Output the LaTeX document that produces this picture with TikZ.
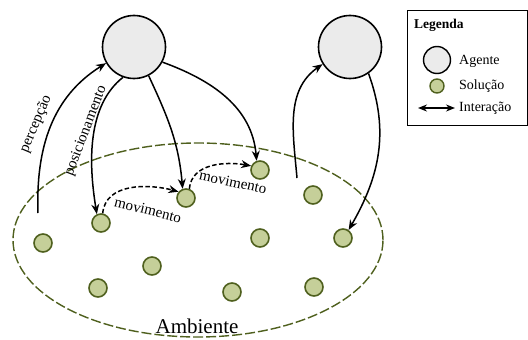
\documentclass[tikz,border=0pt]{standalone}
\usepackage{fontspec}
\setmainfont{Liberation Serif}
\usetikzlibrary{arrows.meta,shapes.geometric}
\definecolor{agentgray}{RGB}{235,235,235}
\definecolor{olivelight}{RGB}{197,207,153}
\definecolor{olivedark}{RGB}{79,96,30}
\begin{document}
\begin{tikzpicture}[x=1pt,y=1pt,
 agent/.style={circle,draw,line width=1.6pt,fill=agentgray,minimum size=63pt,inner sep=0},
 sol/.style={circle,draw=olivedark,line width=1.6pt,fill=olivelight,minimum size=18pt,inner sep=0},
 inter/.style={-{Stealth[length=10pt,width=8pt]},line width=1.5pt},
 mov/.style={inter,dash pattern=on 4.5pt off 2.5pt},
 lbl/.style={font=\fontsize{15}{15}\selectfont,inner sep=1pt},
 legtxt/.style={font=\fontsize{14}{14}\selectfont,anchor=west,inner sep=1pt},
]
\useasboundingbox (0,0) rectangle (528,-340);
% environment
\node[ellipse,draw=olivedark,line width=1.4pt,dash pattern=on 10pt off 3pt,
  minimum width=370pt,minimum height=194pt,inner sep=0] (env) at (198,-240) {};
\node[font=\fontsize{21}{21}\selectfont,inner sep=1pt] (amb) at (197,-326) {Ambiente};
% agents
\node[agent] (a1) at (134,-47) {};
\node[agent] (a2) at (350,-47) {};
% solutions
\node[sol] (s1) at (43,-243) {};
\node[sol] (s2) at (101,-223) {};
\node[sol] (s3) at (186,-198) {};
\node[sol] (s4) at (260,-170) {};
\node[sol] (s5) at (313,-195) {};
\node[sol] (s6) at (260,-238) {};
\node[sol] (s7) at (343,-238) {};
\node[sol] (s8) at (152,-266) {};
\node[sol] (s9) at (98,-288) {};
\node[sol] (s10) at (232,-292) {};
\node[sol] (s11) at (314,-287) {};
% interactions
\coordinate (p1) at (38,-213);
\coordinate (p2) at (297,-178);
\draw[inter] (p1) to[out=92,in=212] (a1.210);
\draw[inter] (a1.250) .. controls (88,-105) and (88,-160) .. (s2.115);
\draw[inter] (a1.297) to[out=-65,in=95] (s3.110);
\draw[inter] (a1.-28) to[out=-20,in=95] (s4.110);
\draw[inter] (p2) to[out=95,in=215] (a2.212);
\draw[inter] (a2.-55) to[out=-70,in=60] (s7.55);
% movements
\draw[mov] (s2.80) to[out=85,in=165] (s3.140);
\draw[mov] (s3.70) to[out=85,in=170] (s4.155);
% labels
\node[lbl,rotate=67] (lp) at (36,-124) {percepção};
\node[lbl,rotate=69] (lq) at (86,-131) {posicionamento};
\node[lbl,rotate=-14] (lm1) at (148,-210) {movimento};
\node[lbl,rotate=-12] (lm2) at (233,-182) {movimento};
% legend
\node[draw,line width=1pt,minimum width=120pt,minimum height=115pt,anchor=north west,inner sep=0] (leg) at (407,-10) {};
\node[anchor=west,font=\bfseries\fontsize{13.5}{14}\selectfont,inner sep=1pt] (legt) at (413,-25) {Legenda};
\node[agent,minimum size=27pt,line width=1.4pt] (la) at (437,-60) {};
\node[legtxt] (lat) at (458,-61) {Agente};
\node[sol,minimum size=14pt,line width=1.4pt] (ls) at (437,-86) {};
\node[legtxt] (lst) at (458,-86) {Solução};
\coordinate (lil) at (418,-108);
\coordinate (lir) at (455,-108);
\draw[{Stealth[length=9pt,width=7pt]}-{Stealth[length=9pt,width=7pt]},line width=1.5pt] (lil) -- (lir);
\node[legtxt] (lit) at (458,-108) {Interação};
\end{tikzpicture}
\end{document}
